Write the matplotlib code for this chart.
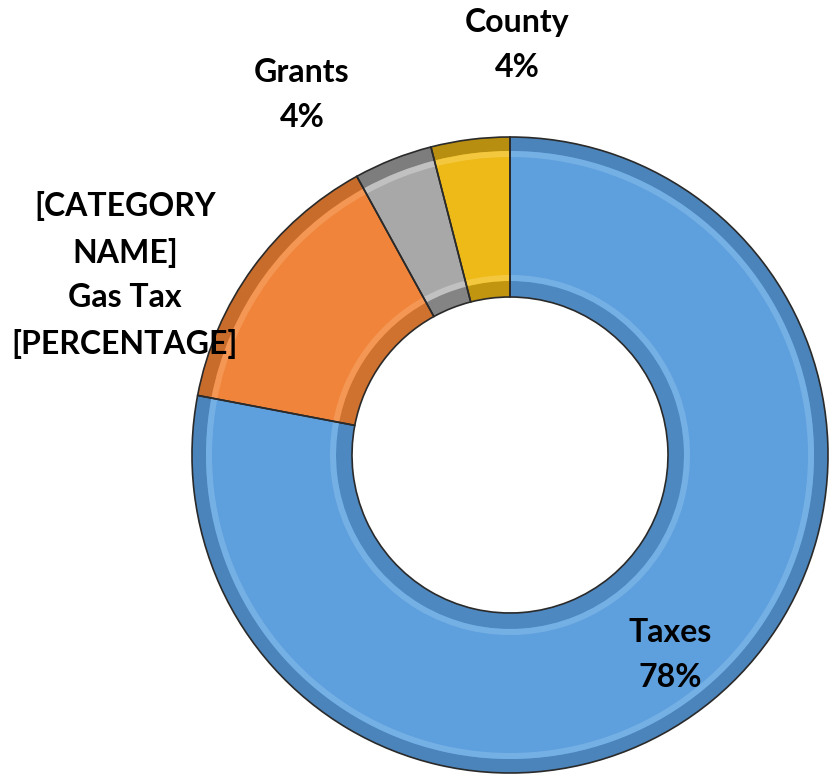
import numpy as np
import matplotlib.pyplot as plt

# data
labels = ['Taxes', 'Gas Tax', 'Grants', 'County']
values = [78, 14, 4, 4]
colors = ['#5E9FDD', '#F0843A', '#A8A8A8', '#EDBA18']
dark = ['#3C6E9E', '#A85A22', '#5A5A5A', '#8C6A08']
light = ['#86BCEB', '#F7A468', '#D2D2D2', '#F8D35A']
label_text = ['Taxes\n78%', '[CATEGORY\nNAME]\nGas Tax\n[PERCENTAGE]', 'Grants\n4%', 'County\n4%']
label_pos = [(670, 655), (125, 275), (302, 95), (517, 45)]

W, H = 831, 782
fig = plt.figure(figsize=(W / 100, H / 100), dpi=100)
ax = fig.add_axes([0, 0, 1, 1])

cx, cy = 510, H - 455
R, w = 318, 160

def ring(cols, radius, width, **kw):
    ax.pie(values, colors=cols, startangle=90, counterclock=False, center=(cx, cy),
           radius=radius, wedgeprops=dict(width=width, **kw), frame=True)

# main ring
ring(colors, R, w, edgecolor='none')
# outer bevel (darker rim)
ring(dark, R, 14, edgecolor='none', alpha=0.55)
ring(light, R - 14, 6, edgecolor='none', alpha=0.6)
# inner bevel
ring(dark, R - w + 16, 16, edgecolor='none', alpha=0.45)
ring(light, R - w + 22, 6, edgecolor='none', alpha=0.6)
# separators
ring(['none'] * 4, R, w, edgecolor='#2a2a2a', linewidth=1.2)

ax.set_xlim(0, W)
ax.set_ylim(0, H)
ax.set_aspect('equal')
ax.axis('off')

for txt, (x, y) in zip(label_text, label_pos):
    ax.text(x, H - y, txt, ha='center', va='center', fontsize=23, fontweight='bold',
            family=['Lato', 'DejaVu Sans'], color='black', linespacing=1.65)

plt.savefig('out.png', dpi=100)
